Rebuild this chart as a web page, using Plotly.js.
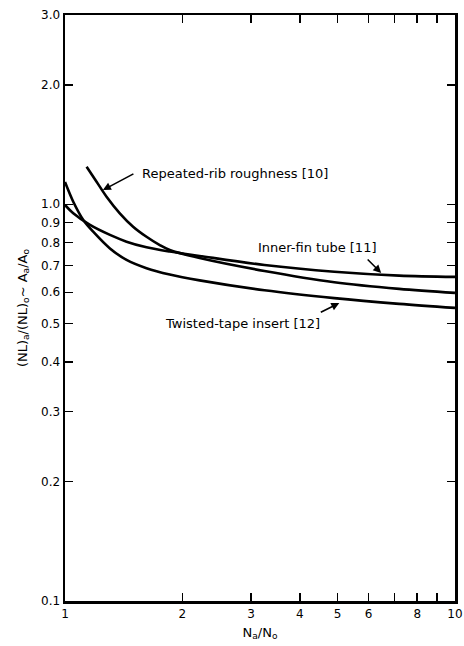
<!DOCTYPE html>
<html>
<head>
<meta charset="utf-8">
<script src="https://cdn.plot.ly/plotly-3.0.1.min.js"></script>
<style>
html,body{margin:0;padding:0;background:#fff;}
#chart{width:464px;height:646px;}
</style>
</head>
<body>
<div id="chart"></div>
<script>
// Data (log-log plot)
const ribX   = [1.136, 1.205, 1.278, 1.382, 1.495, 1.618, 1.750, 1.856, 2.214, 3.247, 4.904, 7.19, 10];
const ribY   = [1.244, 1.140, 1.045, 0.949, 0.878, 0.828, 0.789, 0.767, 0.732, 0.679, 0.636, 0.612, 0.598];
const finX   = [1.0, 1.050, 1.159, 1.304, 1.438, 1.618, 1.856, 2.214, 3.247, 4.904, 7.19, 10];
const finY   = [0.996, 0.949, 0.887, 0.837, 0.805, 0.779, 0.760, 0.741, 0.703, 0.676, 0.661, 0.656];
const tapeX  = [1.0, 1.050, 1.114, 1.181, 1.304, 1.438, 1.618, 1.856, 2.214, 3.247, 4.904, 7.19, 10];
const tapeY  = [1.138, 1.015, 0.913, 0.853, 0.774, 0.724, 0.690, 0.665, 0.643, 0.607, 0.580, 0.561, 0.548];

const yTickVals = [0.1, 0.2, 0.3, 0.4, 0.5, 0.6, 0.7, 0.8, 0.9, 1.0, 2.0, 3.0];
const yTickText = ["0.1","0.2","0.3","0.4","0.5","0.6","0.7","0.8","0.9","1.0","2.0","3.0"];
const xTickVals = [1,2,3,4,5,6,7,8,9,10];
const xTickText = ["1","2","3","4","5","6","","8","","10"];

const labelRib  = "Repeated-rib roughness [10]";
const labelFin  = "Inner-fin tube [11]";
const labelTape = "Twisted-tape insert [12]";

const lineStyle = {color:'#000', width:2.6, shape:'spline', smoothing:0.9};
const traces = [
  {x: ribX, y: ribY, mode:'lines', line: lineStyle, name: labelRib},
  {x: finX, y: finY, mode:'lines', line: lineStyle, name: labelFin},
  {x: tapeX, y: tapeY, mode:'lines', line: lineStyle, name: labelTape}
];

const F = 'DejaVu Sans, Verdana, sans-serif';
const L10 = Math.log10;

const layout = {
  width:464, height:646,
  margin:{l:65, r:9, t:15, b:45},
  paper_bgcolor:'#fff', plot_bgcolor:'#fff',
  showlegend:false,
  font:{family:F, color:'#000', size:12},
  xaxis:{
    type:'log', range:[0,1],
    tickvals:xTickVals, ticktext:xTickText,
    ticks:'inside', ticklen:8, tickwidth:1.5, tickcolor:'#000',
    showline:true, linewidth:2.5, linecolor:'#000', mirror:'ticks',
    showgrid:false, zeroline:false,
    tickfont:{family:F, size:12},
    title:{text:'N<sub>a</sub>/N<sub>o</sub>', font:{family:F, size:13}, standoff:8}
  },
  yaxis:{
    type:'log', range:[L10(0.1), L10(3.0)],
    tickvals:yTickVals, ticktext:yTickText,
    ticks:'inside', ticklen:8, tickwidth:1.5, tickcolor:'#000',
    showline:true, linewidth:2.5, linecolor:'#000', mirror:'ticks',
    showgrid:false, zeroline:false,
    tickfont:{family:F, size:12},
    title:{text:'(NL)<sub>a</sub>/(NL)<sub>o</sub>~ A<sub>a</sub>/A<sub>o</sub>', font:{family:F, size:13}, standoff:11}
  },
  annotations:[
    {x:0.1918, y:0.078, xref:'x', yref:'y', text:labelRib, showarrow:false, xanchor:'left', yanchor:'middle', font:{family:F,size:13}},
    {x:0.0972, y:0.0358, xref:'x', yref:'y', ax:32, ay:-17, text:'', showarrow:true, arrowhead:2, arrowsize:1, arrowwidth:1.6, arrowcolor:'#000'},
    {x:0.4885, y:-0.1077, xref:'x', yref:'y', text:labelFin, showarrow:false, xanchor:'left', yanchor:'middle', font:{family:F,size:13}},
    {x:0.8107, y:-0.1733, xref:'x', yref:'y', ax:-15, ay:-15, text:'', showarrow:true, arrowhead:2, arrowsize:1, arrowwidth:1.6, arrowcolor:'#000'},
    {x:0.2506, y:-0.2993, xref:'x', yref:'y', text:labelTape, showarrow:false, xanchor:'left', yanchor:'middle', font:{family:F,size:13}},
    {x:0.7033, y:-0.2489, xref:'x', yref:'y', ax:-20, ay:10, text:'', showarrow:true, arrowhead:2, arrowsize:1, arrowwidth:1.6, arrowcolor:'#000'}
  ]
};

Plotly.newPlot('chart', traces, layout, {displayModeBar:false, staticPlot:true});
</script>
</body>
</html>
